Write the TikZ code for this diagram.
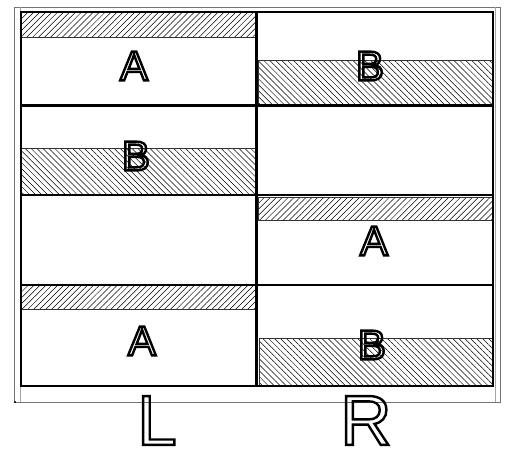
\documentclass[tikz,border=0pt]{standalone}
\usepackage{fontspec}
\setmainfont{Liberation Sans}
\usetikzlibrary{patterns.meta,positioning}

%% hollow (outlined) letters, drawn with text render mode 1
\newcommand{\hollow}[1]{%
  \special{pdf:literal direct 1 Tr 2.4 w}#1\special{pdf:literal direct 0 Tr}}

\tikzset{
  gridline/.style={draw=black, line width=2.6pt},
  frameline/.style={draw=black!55, line width=0.7pt},
  innerframe/.style={draw=black!35, line width=0.7pt},
  hatchA/.style={
    draw=black!80, line width=0.5pt,
    pattern={Lines[angle=45,distance=4.2pt,line width=0.5pt]}
  },
  hatchB/.style={
    draw=black!80, line width=0.5pt,
    pattern={Lines[angle=-45,distance=4.2pt,line width=0.5pt]}
  },
  cellletter/.style={
    inner sep=0pt, font=\fontsize{42}{42}\selectfont
  },
  sidelabel/.style={
    inner sep=0pt, font=\fontsize{71}{71}\selectfont
  },
}

\begin{document}
\begin{tikzpicture}[x=1pt, y=-1pt]
  \useasboundingbox (0,0) rectangle (506,450);

  %% outer frame
  \draw[frameline] (14,7) rectangle (500,402);
  \draw[innerframe] (20,7) -- (20,402);
  \draw[innerframe] (495,7) -- (495,402);
  \fill[black] (15,402) circle (1.2);

  %% hatched strips
  \draw[hatchA] (21,12) rectangle (255,37);
  \draw[hatchB] (258,60) rectangle (492,105);
  \draw[hatchB] (21,148) rectangle (255,195);
  \draw[hatchA] (258,197) rectangle (492,220);
  \draw[hatchA] (21,285) rectangle (255,309);
  \draw[hatchB] (259,338) rectangle (492,386);

  %% grid
  \draw[gridline] (21,12) rectangle (493,386);
  \draw[gridline] (256.5,12) -- (256.5,386);
  \draw[gridline] (21,105.5) -- (493,105.5);
  \draw[gridline] (21,195) -- (493,195);
  \draw[gridline] (21,285) -- (493,285);

  %% letters in the cells
  \node[cellletter] (l1) at (134,66) {\hollow{A}};
  \node[cellletter] (r1) at (370,66) {\hollow{B}};
  \node[cellletter] (l2) at (136,156) {\hollow{B}};
  \node[cellletter] (r3) at (374,241) {\hollow{A}};
  \node[cellletter] (l4) at (142,341) {\hollow{A}};
  \node[cellletter] (r4) at (372,345) {\hollow{B}};

  %% column labels
  \node[sidelabel] (left) at (157,420.5) {\hollow{L}};
  \node[sidelabel] (right) at (366,420.5) {\hollow{R}};
\end{tikzpicture}
\end{document}
